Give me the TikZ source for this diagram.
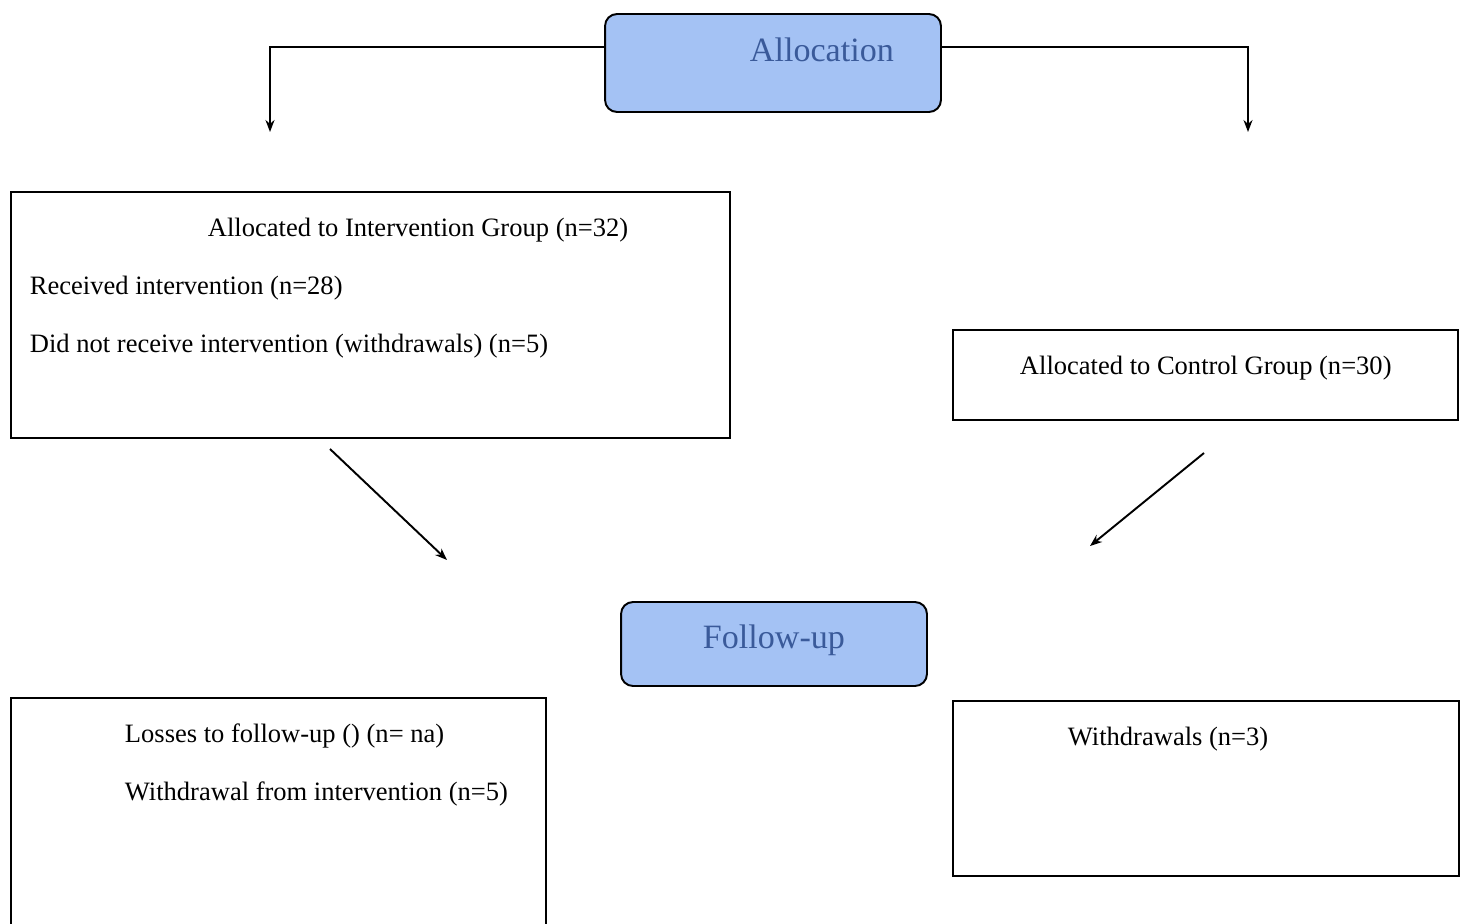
\documentclass[tikz,border=0pt]{standalone}
\usepackage{fontspec}
\setmainfont{Liberation Serif}
\usepackage{tikz}
\usetikzlibrary{arrows.meta}
\usetikzlibrary{positioning}
\definecolor{stagefill}{HTML}{A4C2F4}
\definecolor{stagetext}{HTML}{3A5A9A}

\begin{document}
\begin{tikzpicture}[x=0.02cm,y=-0.02cm,>={Stealth[length=0.24cm,width=0.18cm]},
  line width=1.1pt,
  stage node/.style={draw,rounded corners=0.24cm,fill=stagefill,inner sep=0pt},
  group node/.style={draw,inner sep=0pt},
  stage text/.style={inner sep=0pt,anchor=base west,text=stagetext,font=\fontsize{19.4}{23}\selectfont},
  line text/.style={inner sep=0pt,anchor=base west,font=\fontsize{15.1}{18}\selectfont}]

  \useasboundingbox (0,0) rectangle (1460,923);

  % stages
  \node[stage node,minimum width=6.72cm,minimum height=1.96cm] (alloc) at (773,63) {};
  \node[stage text] (alloct) at (749,61) {Allocation};
  \node[stage node,minimum width=6.12cm,minimum height=1.68cm] (follow) at (774,644) {};
  \node[stage text] (followt) at (702,648) {Follow-up};

  % groups
  \node[group node,minimum width=14.38cm,minimum height=4.92cm] (inter) at (370.5,315) {};
  \node[line text] (inter1) at (207,236) {Allocated to Intervention Group (n=32)};
  \node[line text] (inter2) at (29,294) {Received intervention (n=28)};
  \node[line text] (inter3) at (29,352) {Did not receive intervention (withdrawals) (n=5)};

  \node[group node,minimum width=10.1cm,minimum height=1.8cm] (ctrl) at (1205.5,375) {};
  \node[line text] (ctrl1) at (1019,374) {Allocated to Control Group (n=30)};

  \node[group node,minimum width=10.7cm,minimum height=5.2cm] (loss) at (278.5,828) {};
  \node[line text] (loss1) at (124,742) {Losses to follow-up () (n= na)};
  \node[line text] (loss2) at (124,800) {Withdrawal from intervention (n=5)};

  \node[group node,minimum width=10.12cm,minimum height=3.5cm] (wd) at (1206,788.5) {};
  \node[line text] (wd1) at (1067,745) {Withdrawals (n=3)};

  % free ends
  \coordinate (ltip) at (270,132);
  \coordinate (rtip) at (1248,132);
  \coordinate (itail) at (330,449);
  \coordinate (ihead) at (447,560);
  \coordinate (ctail) at (1204,453);
  \coordinate (chead) at (1090,546);

  \draw[->] ([yshift=0.32cm]alloc.west) -| (ltip);
  \draw[->] ([yshift=0.32cm]alloc.east) -| (rtip);
  \draw[->] (itail) -- (ihead);
  \draw[->] (ctail) -- (chead);

\end{tikzpicture}
\end{document}
